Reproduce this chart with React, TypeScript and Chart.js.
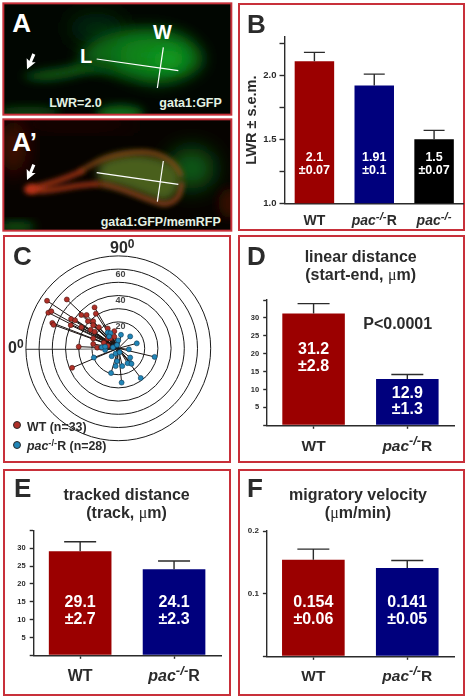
import React, { useEffect, useRef } from "react";
import { Chart, registerables } from "chart.js";

Chart.register(...registerables);
Chart.defaults.font.family = "'Liberation Sans', Arial, sans-serif";

// ---------- data ----------
const catsB = ["WT", "pac-/-R", "pac-/-"];
const catsTwo = ["WT", "pac-/-R"];

const lwrMeans = [2.11, 1.92, 1.5];
const lwrErrors = [0.07, 0.09, 0.07];
const lwrLabels = [["2.1", "±0.07"], ["1.91", "±0.1"], ["1.5", "±0.07"]];

const linearMeans = [31.2, 12.9];
const linearErrors = [2.8, 1.3];
const linearLabels = [["31.2", "±2.8"], ["12.9", "±1.3"]];

const trackMeans = [29.1, 24.1];
const trackErrors = [2.7, 2.3];
const trackLabels = [["29.1", "±2.7"], ["24.1", "±2.3"]];

const velocityMeans = [0.154, 0.141];
const velocityErrors = [0.017, 0.012];
const velocityLabels = [["0.154", "±0.06"], ["0.141", "±0.05"]];

const wtX = [-54, -39, -53, -50.75, -50, -49, -18, -17, -28, -24, -35.75, -32.75, -23, -19, -36, -28, -19, -14.75, -21, -18, -8, -3, -19, -30, -19, -16, -13, -35, -8, -6, -8, -3, -11];
const wtY = [36, 37, 27, 28, 19.25, 17.75, 31, 26.25, 25.25, 25.25, 22.25, 21.25, 20.5, 20.5, 17.5, 16, 17.5, 16, 14, 12.5, 15, 13, 7.5, 1.25, 3.25, 0.5, 0.5, -14.75, 7.5, 7.5, 2, 8.75, 4.25];
const pacX = [2, 9, 14, -8, -6, -7, 0, 8, 27.5, -18.5, -10, -5, -2, 1, 9, 9, 7, 10, -2, 3, -1, -5.5, 17, 2.5, -12.5, -10, -4, -1];
const pacY = [10.25, 9, 3.75, 12, 11.5, 9, 6, -0.75, -6.5, -7, -1.25, -6, -4, -3, -7, -11, -11.25, -11.75, -13.5, -13.5, -9.75, -18.75, -22.5, -26, 0.75, 1.25, 0.75, 2.5];
const ringValues = [20, 30, 40, 50, 60, 70];
const ringLabels = [20, 40, 60];

// ---------- styling ----------
const FONT = "'Liberation Sans', Arial, sans-serif";
const INK = "#2b2b2b";
const RED = "#9b0000";
const BLUE = "#00007d";
const BLACK = "#000000";
const FRAME = "#c8303a";
const WT_DOT = "#b03028";
const PAC_DOT = "#2186b8";

type Rect = { x: number; y: number; w: number; h: number };
type Plot = { l: number; t: number; r: number; b: number };

function drawCategory(ctx: any, label: string, cx: number, cy: number, size: number) {
  ctx.save();
  ctx.fillStyle = INK;
  ctx.textBaseline = "alphabetic";
  ctx.textAlign = "left";
  const base = cy + size * 0.36;
  const idx = label.indexOf("-/-");
  const runs: [string, string, number][] =
    idx < 0
      ? [[label, `bold ${size}px ${FONT}`, 0]]
      : [
          [label.slice(0, idx), `italic bold ${size}px ${FONT}`, 0],
          ["-/-", `italic bold ${size * 0.82}px ${FONT}`, size * 0.36],
          [label.slice(idx + 3), `bold ${size}px ${FONT}`, 0],
        ];
  let total = 0;
  for (const [t, f] of runs) {
    ctx.font = f;
    total += ctx.measureText(t).width;
  }
  let x = cx - total / 2;
  for (const [t, f, up] of runs) {
    ctx.font = f;
    ctx.fillText(t, x, base - up);
    x += ctx.measureText(t).width;
  }
  ctx.restore();
}

type BarCfg = {
  rect: Rect;
  plot: Plot;
  cats: string[];
  means: number[];
  errors: number[];
  labels: string[][];
  labelY: number[][];
  colors: string[];
  min: number;
  max: number;
  step: number;
  shown: number[];
  digits: number;
  tickFont: number;
  tickLen: number;
  tickPad: number;
  xTicks: boolean;
  barPct: number;
  capW: number;
  valueFont: number;
  catFont: number;
  catY: number;
  yTitle?: string;
};

function BarPanel({ cfg }: { cfg: BarCfg }) {
  const ref = useRef<HTMLCanvasElement>(null);
  useEffect(() => {
    const { rect, plot } = cfg;
    const overlay = {
      id: "overlay",
      afterDatasetsDraw(chart: any) {
        const { ctx, scales } = chart;
        const { x, y } = scales;
        ctx.save();
        cfg.means.forEach((m, i) => {
          const px = x.getPixelForValue(i);
          const top = y.getPixelForValue(m + cfg.errors[i]);
          ctx.strokeStyle = INK;
          ctx.lineWidth = 1.4;
          ctx.beginPath();
          ctx.moveTo(px, y.getPixelForValue(m));
          ctx.lineTo(px, top);
          ctx.moveTo(px - cfg.capW / 2, top);
          ctx.lineTo(px + cfg.capW / 2, top);
          ctx.stroke();
          ctx.fillStyle = "#ffffff";
          ctx.font = `bold ${cfg.valueFont}px ${FONT}`;
          ctx.textAlign = "center";
          ctx.textBaseline = "middle";
          cfg.labels[i].forEach((t, j) => {
            ctx.fillText(t, px, y.getPixelForValue(cfg.labelY[i][j]));
          });
        });
        ctx.restore();
        cfg.cats.forEach((c, i) => {
          drawCategory(ctx, c, x.getPixelForValue(i), cfg.catY - rect.y, cfg.catFont);
        });
      },
    };
    const chart = new Chart(ref.current as HTMLCanvasElement, {
      type: "bar",
      data: {
        labels: cfg.cats,
        datasets: [
          {
            data: cfg.means,
            backgroundColor: cfg.colors,
            barPercentage: cfg.barPct,
            categoryPercentage: 1,
          },
        ],
      },
      options: {
        animation: false,
        responsive: false,
        layout: {
          padding: { left: 0, bottom: 0, top: plot.t - rect.y, right: rect.x + rect.w - plot.r },
        },
        plugins: { legend: { display: false }, tooltip: { enabled: false } },
        scales: {
          x: {
            afterFit: (s: any) => {
              s.height = rect.y + rect.h - plot.b;
            },
            ticks: { display: false },
            grid: {
              offset: false,
              drawOnChartArea: false,
              drawTicks: cfg.xTicks,
              tickLength: 3.5,
              tickWidth: 1.4,
              tickColor: INK,
              color: INK,
            },
            border: { color: INK, width: 1.4 },
          },
          y: {
            min: cfg.min,
            max: cfg.max,
            afterFit: (s: any) => {
              s.width = plot.l - rect.x;
            },
            title: cfg.yTitle
              ? {
                  display: true,
                  text: cfg.yTitle,
                  color: INK,
                  font: { size: 14.5, weight: "bold" },
                  padding: { top: 3, bottom: 0 },
                }
              : { display: false },
            ticks: {
              stepSize: cfg.step,
              includeBounds: false,
              autoSkip: false,
              color: INK,
              padding: cfg.tickPad,
              font: { size: cfg.tickFont, weight: "bold" },
              callback: (v: any) =>
                cfg.shown.some((s) => Math.abs(s - Number(v)) < 1e-6)
                  ? Number(v).toFixed(cfg.digits)
                  : "",
            },
            grid: {
              drawOnChartArea: false,
              tickLength: cfg.tickLen,
              tickWidth: 1.4,
              tickColor: INK,
              color: INK,
            },
            border: { color: INK, width: 1.4 },
          },
        },
      } as any,
      plugins: [overlay],
    });
    return () => chart.destroy();
  }, [cfg]);
  return (
    <canvas
      ref={ref}
      width={cfg.rect.w}
      height={cfg.rect.h}
      style={{ position: "absolute", left: cfg.rect.x, top: cfg.rect.y, width: cfg.rect.w, height: cfg.rect.h }}
    />
  );
}

function PolarPanel({ rect }: { rect: Rect }) {
  const ref = useRef<HTMLCanvasElement>(null);
  useEffect(() => {
    const half = 75;
    const pxPerUnit = 1.32;
    const cx = 118.3 - rect.x;
    const cy = 348.3 - rect.y;
    const toPts = (xs: number[], ys: number[]) => xs.map((x, i) => ({ x, y: ys[i] }));
    const rings = {
      id: "rings",
      beforeDatasetsDraw(chart: any) {
        const { ctx, scales } = chart;
        const { x, y } = scales;
        const c0x = x.getPixelForValue(0);
        const c0y = y.getPixelForValue(0);
        ctx.save();
        ctx.strokeStyle = "#1a1a1a";
        ctx.lineWidth = 1;
        ringValues.forEach((v) => {
          ctx.beginPath();
          ctx.arc(c0x, c0y, x.getPixelForValue(v) - c0x, 0, Math.PI * 2);
          ctx.stroke();
        });
        ctx.fillStyle = "#444";
        ctx.font = `bold 9px ${FONT}`;
        ctx.textAlign = "center";
        ctx.textBaseline = "middle";
        ringLabels.forEach((v) => {
          ctx.fillText(String(v), x.getPixelForValue(1.75), y.getPixelForValue(v - 3.75));
        });
        // 0 degree spoke
        ctx.strokeStyle = "#1a1a1a";
        ctx.lineWidth = 0.9;
        ctx.beginPath();
        ctx.moveTo(x.getPixelForValue(-70), y.getPixelForValue(-0.75));
        ctx.lineTo(x.getPixelForValue(-29), y.getPixelForValue(-0.75));
        ctx.stroke();
        ctx.strokeStyle = "#999";
        ctx.lineWidth = 1.4;
        ctx.beginPath();
        ctx.moveTo(x.getPixelForValue(-29), y.getPixelForValue(-0.75));
        ctx.lineTo(c0x, y.getPixelForValue(-0.25));
        ctx.stroke();
        // spokes
        ctx.strokeStyle = "#1c1412";
        ctx.lineWidth = 1;
        [[wtX, wtY], [pacX, pacY]].forEach(([xs, ys]) => {
          xs.forEach((vx, i) => {
            ctx.beginPath();
            ctx.moveTo(c0x, c0y);
            ctx.lineTo(x.getPixelForValue(vx), y.getPixelForValue(ys[i]));
            ctx.stroke();
          });
        });
        ctx.restore();
      },
    };
    const chart = new Chart(ref.current as HTMLCanvasElement, {
      type: "scatter",
      data: {
        datasets: [
          {
            label: "WT (n=33)",
            data: toPts(wtX, wtY),
            backgroundColor: WT_DOT,
            borderColor: "#4a1510",
            borderWidth: 0.6,
            pointRadius: 2.5,
            order: 2,
          },
          {
            label: "pac-/-R (n=28)",
            data: toPts(pacX, pacY),
            backgroundColor: PAC_DOT,
            borderColor: "#103a55",
            borderWidth: 0.6,
            pointRadius: 2.5,
            order: 1,
          },
        ],
      },
      options: {
        animation: false,
        responsive: false,
        layout: {
          padding: {
            left: cx - half * pxPerUnit,
            right: rect.w - cx - half * pxPerUnit,
            top: cy - half * pxPerUnit,
            bottom: rect.h - cy - half * pxPerUnit,
          },
        },
        plugins: { legend: { display: false }, tooltip: { enabled: false } },
        scales: {
          x: { type: "linear", min: -half, max: half, display: false },
          y: { type: "linear", min: -half, max: half, display: false },
        },
      } as any,
      plugins: [rings],
    });
    return () => chart.destroy();
  }, [rect]);
  return (
    <canvas
      ref={ref}
      width={rect.w}
      height={rect.h}
      style={{ position: "absolute", left: rect.x, top: rect.y, width: rect.w, height: rect.h }}
    />
  );
}

// ---------- config ----------
const cfgB: BarCfg = {
  rect: { x: 240, y: 5, w: 224, h: 225 },
  plot: { l: 284.5, t: 37, r: 465, b: 203.3 },
  cats: catsB,
  means: lwrMeans,
  errors: lwrErrors,
  labels: lwrLabels,
  labelY: [[1.354, 1.258], [1.354, 1.258], [1.354, 1.258]],
  colors: [RED, BLUE, BLACK],
  min: 1,
  max: 2.3,
  step: 0.25,
  shown: [1, 1.5, 2],
  digits: 1,
  tickFont: 9.5,
  tickLen: 5,
  tickPad: 3,
  xTicks: false,
  barPct: 0.66,
  capW: 21,
  valueFont: 12.5,
  catFont: 14,
  catY: 220,
  yTitle: "LWR ± s.e.m.",
};
const cfgD: BarCfg = {
  rect: { x: 240, y: 237, w: 224, h: 225 },
  plot: { l: 266.7, t: 300, r: 454.2, b: 425.3 },
  cats: catsTwo,
  means: linearMeans,
  errors: linearErrors,
  labels: linearLabels,
  labelY: [[21.2, 16.4], [8.9, 4.4]],
  colors: [RED, BLUE],
  min: 0,
  max: 35,
  step: 5,
  shown: [5, 10, 15, 20, 25, 30],
  digits: 0,
  tickFont: 7.5,
  tickLen: 3.5,
  tickPad: 4,
  xTicks: true,
  barPct: 0.667,
  capW: 32,
  valueFont: 16,
  catFont: 15.5,
  catY: 445,
};
const cfgE: BarCfg = {
  rect: { x: 5, y: 471, w: 225, h: 224 },
  plot: { l: 33.2, t: 530.3, r: 221, b: 655.3 },
  cats: catsTwo,
  means: trackMeans,
  errors: trackErrors,
  labels: trackLabels,
  labelY: [[14.8, 10], [14.8, 10]],
  colors: [RED, BLUE],
  min: 0,
  max: 35,
  step: 5,
  shown: [5, 10, 15, 20, 25, 30],
  digits: 0,
  tickFont: 7.5,
  tickLen: 3.5,
  tickPad: 4,
  xTicks: true,
  barPct: 0.667,
  capW: 32,
  valueFont: 16,
  catFont: 16,
  catY: 675,
};
const cfgF: BarCfg = {
  rect: { x: 240, y: 471, w: 224, h: 224 },
  plot: { l: 266.4, t: 531, r: 454.2, b: 656.3 },
  cats: catsTwo,
  means: velocityMeans,
  errors: velocityErrors,
  labels: velocityLabels,
  labelY: [[0.086, 0.059], [0.086, 0.059]],
  colors: [RED, BLUE],
  min: 0,
  max: 0.2,
  step: 0.1,
  shown: [0.1, 0.2],
  digits: 1,
  tickFont: 8,
  tickLen: 3.5,
  tickPad: 4,
  xTicks: true,
  barPct: 0.667,
  capW: 32,
  valueFont: 16,
  catFont: 15.5,
  catY: 675,
};
const rectC: Rect = { x: 5, y: 237, w: 225, h: 225 };

// ---------- page pieces ----------
function Frame({ x, y, w, h }: Rect) {
  return (
    <div
      style={{
        position: "absolute",
        left: x,
        top: y,
        width: w,
        height: h,
        boxSizing: "border-box",
        border: `2px solid ${FRAME}`,
      }}
    />
  );
}

function Txt({
  x,
  y,
  size,
  color = INK,
  center = true,
  children,
}: {
  x: number;
  y: number;
  size: number;
  color?: string;
  center?: boolean;
  children: React.ReactNode;
}) {
  return (
    <div
      style={{
        position: "absolute",
        left: x,
        top: y,
        transform: center ? "translate(-50%,-50%)" : "translateY(-50%)",
        font: `bold ${size}px/1 ${FONT}`,
        color,
        whiteSpace: "nowrap",
      }}
    >
      {children}
    </div>
  );
}

const Mu = () => <span style={{ fontFamily: "'Liberation Serif', serif", fontWeight: 400 }}>μ</span>;
const Sup = ({ children }: { children: React.ReactNode }) => (
  <span style={{ fontSize: "0.75em", verticalAlign: "0.45em", lineHeight: 0 }}>{children}</span>
);

function Arrow({ x, y }: { x: number; y: number }) {
  return (
    <path
      d={`M${x},${y} L${x - 1},${y - 33} L${x + 7},${y - 25} L${x + 16},${y - 48} L${x + 25},${y - 44} L${x + 15},${y - 21} L${x + 26},${y - 21} Z`}
      fill="#fff"
    />
  );
}

function Micrographs() {
  return (
    <svg
      width={235}
      height={235}
      viewBox="0 0 705 705"
      style={{ position: "absolute", left: 0, top: 0 }}
    >
      <defs>
        <filter id="b8" x="-50%" y="-50%" width="200%" height="200%"><feGaussianBlur stdDeviation="8" /></filter>
        <filter id="b14" x="-50%" y="-50%" width="200%" height="200%"><feGaussianBlur stdDeviation="14" /></filter>
        <filter id="b22" x="-50%" y="-50%" width="200%" height="200%"><feGaussianBlur stdDeviation="22" /></filter>
        <filter id="b32" x="-50%" y="-50%" width="200%" height="200%"><feGaussianBlur stdDeviation="32" /></filter>
        <clipPath id="ca"><rect x="11" y="12" width="682" height="331" /></clipPath>
        <clipPath id="cb"><rect x="11" y="360" width="682" height="331" /></clipPath>
      </defs>

      {/* A */}
      <g clipPath="url(#ca)">
        <rect x="11" y="12" width="682" height="331" fill="#010601" />
        <ellipse cx="290" cy="85" rx="85" ry="45" fill="#052a08" filter="url(#b32)" />
        <path
          d="M65,228 C130,205 190,210 235,190 C300,200 360,210 400,235 C330,215 280,210 220,230 C170,240 110,250 65,228Z"
          fill="#0a5812"
          filter="url(#b14)"
        />
        <path
          d="M235,185 C255,130 300,98 400,88 C500,78 590,110 610,170 C612,212 560,236 500,250 C440,258 400,235 340,212 C300,200 260,195 235,185Z"
          fill="#0a6814"
          filter="url(#b22)"
        />
        <ellipse cx="455" cy="165" rx="105" ry="48" fill="#0c8a1a" filter="url(#b32)" />
        <ellipse cx="505" cy="178" rx="50" ry="26" fill="#10a022" filter="url(#b22)" />
        <ellipse cx="360" cy="340" rx="70" ry="24" fill="#0d6a16" filter="url(#b14)" />
        <ellipse cx="85" cy="338" rx="95" ry="18" fill="#09420e" filter="url(#b14)" />
      </g>
      <rect x="10" y="10" width="684" height="334" fill="none" stroke={FRAME} strokeWidth="6" />

      {/* A' */}
      <g clipPath="url(#cb)">
        <rect x="11" y="360" width="682" height="331" fill="#060300" />
        <ellipse cx="40" cy="440" rx="40" ry="85" fill="#4c0905" filter="url(#b32)" />
        <ellipse cx="230" cy="372" rx="190" ry="18" fill="#280603" filter="url(#b32)" />
        <ellipse cx="575" cy="505" rx="70" ry="62" fill="#0c5c14" filter="url(#b32)" />
        <path
          d="M295,490 C355,450 470,450 530,500 C555,545 530,600 490,605 C430,590 390,560 295,548Z"
          fill="#4a5e1c"
          filter="url(#b14)"
        />
        <path d="M240,515 C290,482 340,458 430,456 C490,458 530,490 545,530" fill="none" stroke="#8a4a14" strokeWidth="12" filter="url(#b8)" />
        <path d="M300,552 C370,560 420,595 490,612 C525,610 545,590 545,545" fill="none" stroke="#94401a" strokeWidth="12" filter="url(#b8)" />
        <path d="M85,568 C140,585 220,550 300,552 M85,565 C140,555 200,535 250,512" fill="none" stroke="#a83416" strokeWidth="14" filter="url(#b8)" />
        <ellipse cx="92" cy="568" rx="20" ry="14" fill="#b83018" filter="url(#b8)" />
        <ellipse cx="50" cy="680" rx="55" ry="14" fill="#0a5a12" filter="url(#b14)" />
        <ellipse cx="690" cy="610" rx="35" ry="45" fill="#320905" filter="url(#b14)" />
      </g>
      <rect x="10" y="358" width="684" height="334" fill="none" stroke={FRAME} strokeWidth="6" />

      {/* measurement lines */}
      <g stroke="#ffffff" strokeWidth="3.6" fill="none">
        <line x1="290" y1="177" x2="535" y2="212" />
        <line x1="490" y1="142" x2="472" y2="264" />
        <line x1="290" y1="518" x2="535" y2="553" />
        <line x1="490" y1="483" x2="472" y2="605" />
      </g>
      <Arrow x={81} y={208} />
      <Arrow x={81} y={540} />

      <g fontFamily={FONT} fontWeight="bold" fill="#fff">
        <text x="37" y="97" fontSize="78">A</text>
        <text x="37" y="453" fontSize="78">A’</text>
        <text x="459" y="118" fontSize="60">W</text>
        <text x="240" y="190" fontSize="60">L</text>
        <g fontSize="37.5" fill="#e4f2e4">
          <text x="148" y="320">LWR=2.0</text>
          <text x="478" y="320">gata1:GFP</text>
          <text x="302" y="677">gata1:GFP/memRFP</text>
        </g>
      </g>
    </svg>
  );
}

function Dot({ x, y, c }: { x: number; y: number; c: string }) {
  return (
    <div
      style={{
        position: "absolute",
        left: x - 4,
        top: y - 4,
        width: 8,
        height: 8,
        borderRadius: "50%",
        background: c,
        border: "1px solid #2a2a2a",
        boxSizing: "border-box",
      }}
    />
  );
}

export default function App() {
  return (
    <div style={{ position: "absolute", left: 0, top: 0, width: 469, height: 700, background: "#fff", overflow: "hidden", filter: "blur(0.4px)" }}>
      <Micrographs />

      <Frame x={238} y={3} w={227} h={228} />
      <Frame x={3} y={235} w={228} h={228} />
      <Frame x={238} y={235} w={227} h={228} />
      <Frame x={3} y={469} w={228} h={227} />
      <Frame x={238} y={469} w={227} h={227} />

      <BarPanel cfg={cfgB} />
      <PolarPanel rect={rectC} />
      <BarPanel cfg={cfgD} />
      <BarPanel cfg={cfgE} />
      <BarPanel cfg={cfgF} />

      <Txt x={247} y={24} size={26} center={false}>B</Txt>
      <Txt x={13} y={256} size={26} center={false}>C</Txt>
      <Txt x={247} y={256} size={26} center={false}>D</Txt>
      <Txt x={14} y={488} size={26} center={false}>E</Txt>
      <Txt x={247} y={488} size={26} center={false}>F</Txt>

      <Txt x={110} y={248} size={16} center={false}>90<Sup>0</Sup></Txt>
      <Txt x={8} y={348} size={16} center={false}>0<Sup>0</Sup></Txt>

      <Dot x={16.7} y={425} c={WT_DOT} />
      <Dot x={16.7} y={445} c={PAC_DOT} />
      <Txt x={27} y={426.5} size={12.4} center={false}>WT (n=33)</Txt>
      <Txt x={27} y={446} size={12.4} center={false}><i>pac</i><Sup>-/-</Sup>R (n=28)</Txt>

      <Txt x={360.7} y={257} size={16}>linear distance</Txt>
      <Txt x={360.7} y={275} size={16}>(start-end, <Mu />m)</Txt>
      <Txt x={397.7} y={324} size={16}>P&lt;0.0001</Txt>

      <Txt x={126.6} y={495} size={16}>tracked distance</Txt>
      <Txt x={126.6} y={512.5} size={16}>(track, <Mu />m)</Txt>

      <Txt x={358} y={495} size={16}>migratory velocity</Txt>
      <Txt x={358} y={512.5} size={16}>(<Mu />m/min)</Txt>
    </div>
  );
}
